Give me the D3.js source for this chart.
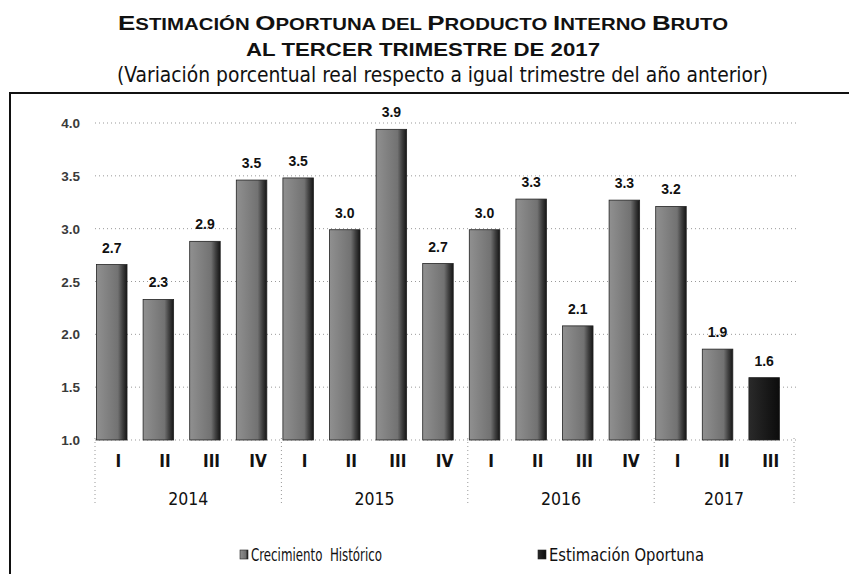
<!DOCTYPE html>
<html lang="es">
<head>
<meta charset="utf-8">
<title>Estimación Oportuna del PIB</title>
<script src="https://cdn.jsdelivr.net/npm/d3@7"></script>
<style>
  body { margin: 0; background: #fff; }
  text { font-family: "Liberation Sans Narrow", "DejaVu Sans Condensed", "Liberation Sans", sans-serif; }
</style>
</head>
<body>
<script>
// datos
var quarters = ["I","II","III","IV","I","II","III","IV","I","II","III","IV","I","II","III"];
var years = ["2014","2015","2016","2017"];
var yearSize = [4, 4, 4, 3];
var values = [2.66, 2.33, 2.88, 3.46, 3.48, 2.99, 3.94, 2.67, 2.99, 3.28, 2.08, 3.27, 3.21, 1.86, 1.59];
var series = ["Crecimiento  Histórico","Estimación Oportuna"];
var nHist = 14; // los ultimos son estimacion
var yTicks = [1.0, 1.5, 2.0, 2.5, 3.0, 3.5, 4.0];

var w = 849, h = 574;
var svg = d3.select("body").append("svg").attr("width", w).attr("height", h);

var defs = svg.append("defs");
var grad = defs.append("linearGradient").attr("id", "hist").attr("x1", 0).attr("x2", 1).attr("y1", 0).attr("y2", 0);
grad.append("stop").attr("offset", "0%").attr("stop-color", "#909090");
grad.append("stop").attr("offset", "70%").attr("stop-color", "#727272");
grad.append("stop").attr("offset", "85%").attr("stop-color", "#404040");
grad.append("stop").attr("offset", "100%").attr("stop-color", "#151515");
var grad2 = defs.append("linearGradient").attr("id", "est").attr("x1", 0).attr("x2", 1).attr("y1", 0).attr("y2", 0);
grad2.append("stop").attr("offset", "0%").attr("stop-color", "#2a2a2a");
grad2.append("stop").attr("offset", "100%").attr("stop-color", "#0c0c0c");

// titulo (versalitas hechas a mano)
var t1 = svg.append("text").attr("x", 118).attr("y", 30)
  .attr("textLength", 610).attr("lengthAdjust", "spacingAndGlyphs")
  .style("font-family", "'Liberation Sans', Arial, sans-serif")
  .style("font-weight", "bold")
  .attr("fill", "#111");
"Estimación Oportuna del Producto Interno Bruto".split("").forEach(function(c) {
  var big = c !== c.toLowerCase();
  t1.append("tspan").style("font-size", big ? "21px" : "16.5px").text(c.toUpperCase());
});
svg.append("text").attr("x", 246).attr("y", 56)
  .attr("textLength", 354).attr("lengthAdjust", "spacingAndGlyphs")
  .style("font-family", "'Liberation Sans', Arial, sans-serif")
  .style("font-weight", "bold").style("font-size", "18px")
  .attr("fill", "#111")
  .text("AL TERCER TRIMESTRE DE 2017");
svg.append("text").attr("x", 117).attr("y", 82)
  .attr("textLength", 651).attr("lengthAdjust", "spacingAndGlyphs")
  .style("font-size", "21px")
  .attr("fill", "#111")
  .text("(Variación porcentual real respecto a igual trimestre del año anterior)");

// marco
svg.append("line").attr("x1", 10).attr("x2", w).attr("y1", 93).attr("y2", 93)
  .attr("stroke", "#111").attr("stroke-width", 2);
svg.append("line").attr("x1", 10).attr("x2", 10).attr("y1", 92).attr("y2", h)
  .attr("stroke", "#111").attr("stroke-width", 2);

// escalas
var y = d3.scaleLinear().domain([1, 4]).range([440, 123]);
var x = d3.scaleBand().domain(d3.range(values.length)).range([95, 794]).padding(0);
var bw = x.bandwidth() * 0.655;

// rejilla
svg.selectAll(".grid").data(yTicks).enter().append("line")
  .attr("x1", 95).attr("x2", 797)
  .attr("y1", d => y(d)).attr("y2", d => y(d))
  .attr("stroke", "#999").attr("stroke-width", 1).attr("stroke-dasharray", "1,3");

svg.selectAll(".ylab").data(yTicks).enter().append("text")
  .attr("x", 80).attr("y", d => y(d) + 5)
  .attr("text-anchor", "end")
  .style("font-family", "'Liberation Sans', Arial, sans-serif")
  .style("font-size", "13.5px").style("font-weight", "bold")
  .attr("fill", "#3a3a3a")
  .text(d => d.toFixed(1));

// barras
svg.selectAll(".bar").data(values).enter().append("rect")
  .attr("x", (d, i) => x(i) + 1.5)
  .attr("y", d => y(d))
  .attr("width", bw)
  .attr("height", d => y(1) - y(d))
  .attr("fill", (d, i) => i < nHist ? "url(#hist)" : "url(#est)")
  .attr("stroke", "#222").attr("stroke-width", 0.8);

svg.selectAll(".vlab").data(values).enter().append("text")
  .attr("x", (d, i) => x(i) + 1.5 + bw / 2)
  .attr("y", d => y(d) - 12)
  .attr("text-anchor", "middle")
  .style("font-family", "'Liberation Sans', Arial, sans-serif")
  .style("font-size", "14px").style("font-weight", "bold")
  .attr("fill", "#111")
  .text(d => d.toFixed(1));

// eje x: trimestres
svg.selectAll(".qlab").data(quarters).enter().append("text")
  .attr("x", (d, i) => x(i) + x.bandwidth() / 2)
  .attr("y", 467)
  .attr("text-anchor", "middle")
  .style("font-size", "17px").style("font-weight", "bold")
  .attr("fill", "#111")
  .text(d => d);

// separadores de anio y etiquetas
var starts = [];
var acc = 0;
yearSize.forEach(function(n) { starts.push(acc); acc += n; });
var bounds = starts.map(s => x(s)).concat([x(values.length - 1) + x.bandwidth()]);
svg.selectAll(".sep").data(bounds).enter().append("line")
  .attr("x1", d => d).attr("x2", d => d)
  .attr("y1", 438).attr("y2", 505)
  .attr("stroke", "#999").attr("stroke-width", 1).attr("stroke-dasharray", "1,3");

svg.selectAll(".year").data(years).enter().append("text")
  .attr("x", (d, i) => (bounds[i] + bounds[i + 1]) / 2 - 20)
  .attr("y", 505)
  .attr("textLength", 40).attr("lengthAdjust", "spacingAndGlyphs")
  .style("font-size", "18px")
  .attr("fill", "#111")
  .text(d => d);

// leyenda
var legX = [240, 538];
var legLen = [131, 155];
var leg = svg.selectAll(".leg").data(series).enter().append("g")
  .attr("transform", (d, i) => "translate(" + legX[i] + ",549)");
leg.append("rect").attr("x", 0).attr("y", 1).attr("width", 8).attr("height", 9)
  .attr("fill", (d, i) => i == 0 ? "url(#hist)" : "url(#est)")
  .attr("stroke", "#222").attr("stroke-width", 0.6);
leg.append("text").attr("x", 11).attr("y", 12)
  .attr("textLength", (d, i) => legLen[i]).attr("lengthAdjust", "spacingAndGlyphs")
  .style("font-size", "17px")
  .attr("fill", "#111")
  .attr("xml:space", "preserve")
  .text(d => d);
</script>
</body>
</html>
